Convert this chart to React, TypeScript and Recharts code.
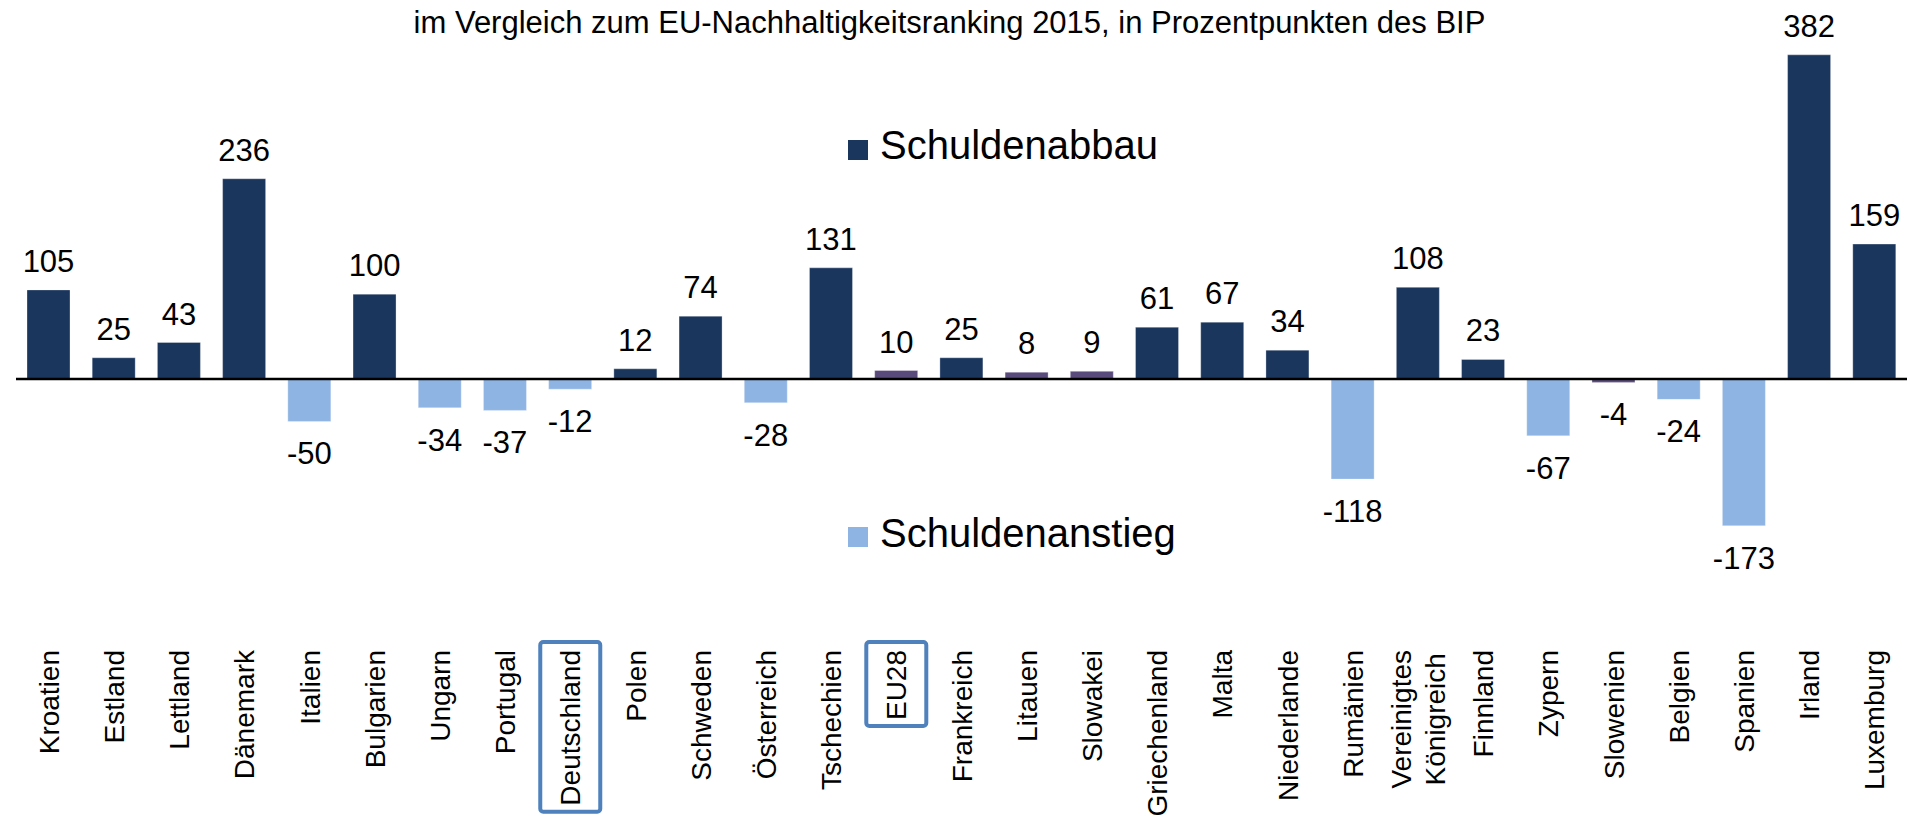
import React from 'react';
import { BarChart, Bar, XAxis, YAxis, Cell, LabelList, ReferenceLine, Legend } from 'recharts';

const title = 'im Vergleich zum EU-Nachhaltigkeitsranking 2015, in Prozentpunkten des BIP';
const countries = [
  'Kroatien', 'Estland', 'Lettland', 'Dänemark', 'Italien', 'Bulgarien', 'Ungarn', 'Portugal',
  'Deutschland', 'Polen', 'Schweden', 'Österreich', 'Tschechien', 'EU28', 'Frankreich', 'Litauen',
  'Slowakei', 'Griechenland', 'Malta', 'Niederlande', 'Rumänien', 'Vereinigtes\nKönigreich',
  'Finnland', 'Zypern', 'Slowenien', 'Belgien', 'Spanien', 'Irland', 'Luxemburg',
];
const changes = [
  105, 25, 43, 236, -50, 100, -34, -37, -12, 12, 74, -28, 131, 10, 25, 8, 9, 61, 67, 34, -118, 108,
  23, -67, -4, -24, -173, 382, 159,
];
const purpleCountries = ['EU28', 'Litauen', 'Slowakei', 'Slowenien'];
const boxedCountries = ['Deutschland', 'EU28'];
const seriesNames = ['Schuldenabbau', 'Schuldenanstieg'];

const NAVY = '#1A365D';
const LIGHT = '#8EB4E3';
const PURPLE = '#5A4B7D';
const BOX = '#4F81BD';
const FONT = "'Liberation Sans', Arial, sans-serif";
const TICK_FS = 28;
const LABEL_FS = 31;
const LABEL_TOP = 650;

const data = countries.map((name, i) => ({
  name,
  abbau: changes[i] >= 0 ? changes[i] : null,
  anstieg: changes[i] < 0 ? changes[i] : null,
}));

let ctx: CanvasRenderingContext2D | null = null;
function measure(t: string): number {
  if (!ctx) ctx = document.createElement('canvas').getContext('2d');
  if (!ctx) return t.length * TICK_FS * 0.5;
  ctx.font = `${TICK_FS}px ${FONT}`;
  return ctx.measureText(t).width;
}

function geom(p: any) {
  const vb = p.viewBox || {};
  const x = Number(p.x ?? vb.x);
  const y = Number(p.y ?? vb.y);
  const w = Number(p.width ?? vb.width);
  const h = Number(p.height ?? vb.height);
  return { x, y, w, h };
}

const PosLabel = (p: any) => {
  if (p.value == null) return null;
  const { x, y, w, h } = geom(p);
  const top = Math.min(y, y + h);
  return (
    <text x={x + w / 2} y={top - 18} textAnchor="middle" fontSize={LABEL_FS} fontFamily={FONT} fill="#000">
      {p.value}
    </text>
  );
};

const NegLabel = (p: any) => {
  if (p.value == null) return null;
  const { x, y, w, h } = geom(p);
  const bottom = Math.max(y, y + h);
  return (
    <text x={x + w / 2} y={bottom + 43} textAnchor="middle" fontSize={LABEL_FS} fontFamily={FONT} fill="#000">
      {p.value}
    </text>
  );
};

const CountryTick = (p: any) => {
  const cx = Number(p.x);
  const label = String(p.payload?.value ?? '');
  const lines = label.split('\n');
  const lh = TICK_FS * 1.2;
  const lens = lines.map(measure);
  const maxLen = Math.max(...lens);
  const boxed = boxedCountries.includes(label);
  return (
    <g>
      {boxed && (
        <rect x={cx - 30} y={LABEL_TOP - 8} width={60} height={maxLen + 14} rx={3} fill="none" stroke={BOX} strokeWidth={4} />
      )}
      <g transform={`translate(${cx},${LABEL_TOP}) rotate(-90)`}>
        {lines.map((ln, i) => {
          const off = (i - (lines.length - 1) / 2) * lh + TICK_FS * 0.36;
          const shift = (maxLen - lens[i]) / 2;
          return (
            <text key={i} x={-shift} y={off} textAnchor="end" fontSize={TICK_FS} fontFamily={FONT} fill="#000">
              {ln}
            </text>
          );
        })}
      </g>
    </g>
  );
};

const legendPos = [
  { markerTop: 140, baseline: 158.5 },
  { markerTop: 527, baseline: 547 },
];

const LegendContent = (props: any) => {
  const payload = props.payload || [];
  return (
    <div style={{ position: 'relative', width: 0, height: 0 }}>
      {payload.map((e: any, k: number) => {
        const idx = Math.max(0, seriesNames.indexOf(String(e.value)));
        const pos = legendPos[idx] ?? legendPos[k];
        return (
          <React.Fragment key={String(e.value)}>
            <div
              style={{ position: 'absolute', left: 848, top: pos.markerTop, width: 20, height: 20, background: e.color }}
            />
            <div
              style={{
                position: 'absolute',
                left: 880,
                top: pos.baseline - 33.85,
                fontFamily: FONT,
                fontSize: 40,
                lineHeight: '40px',
                whiteSpace: 'nowrap',
                color: '#000',
              }}
            >
              {e.value}
            </div>
          </React.Fragment>
        );
      })}
    </div>
  );
};

export default function App() {
  return (
    <div style={{ position: 'absolute', left: 0, top: 0, width: 1907, height: 817, background: '#fff', fontFamily: FONT }}>
      <BarChart
        width={1907}
        height={817}
        data={data}
        stackOffset="sign"
        margin={{ top: 39.6, right: 0, bottom: 0, left: 16 }}
      >
        <XAxis dataKey="name" height={268.3} axisLine={false} tickLine={false} interval={0} tick={(p: any) => <CountryTick {...p} />} />
        <YAxis hide domain={[-200, 400]} type="number" />
        <Legend
          verticalAlign="top"
          align="left"
          wrapperStyle={{ left: 0, top: 0, width: 0, height: 0, margin: 0, padding: 0 }}
          content={(props: any) => <LegendContent {...props} />}
        />
        <Bar dataKey="abbau" name={seriesNames[0]} stackId="s" fill={NAVY} barSize={43} stroke="#ffffff" strokeOpacity={0.3} strokeWidth={1} isAnimationActive={false}>
          {data.map((d) => (
            <Cell key={d.name} fill={purpleCountries.includes(d.name) ? PURPLE : NAVY} />
          ))}
          <LabelList dataKey="abbau" content={PosLabel} />
        </Bar>
        <Bar dataKey="anstieg" name={seriesNames[1]} stackId="s" fill={LIGHT} barSize={43} stroke="#ffffff" strokeOpacity={0.3} strokeWidth={1} isAnimationActive={false}>
          {data.map((d) => (
            <Cell key={d.name} fill={purpleCountries.includes(d.name) ? PURPLE : LIGHT} />
          ))}
          <LabelList dataKey="anstieg" content={NegLabel} />
        </Bar>
        <ReferenceLine y={0} stroke="#000" strokeWidth={2.5} />
      </BarChart>
      <div
        style={{
          position: 'absolute',
          left: 0,
          top: 6.8,
          width: 1899,
          textAlign: 'center',
          fontFamily: FONT,
          fontSize: 31,
          lineHeight: '31px',
          color: '#000',
          whiteSpace: 'nowrap',
        }}
      >
        {title}
      </div>
    </div>
  );
}
